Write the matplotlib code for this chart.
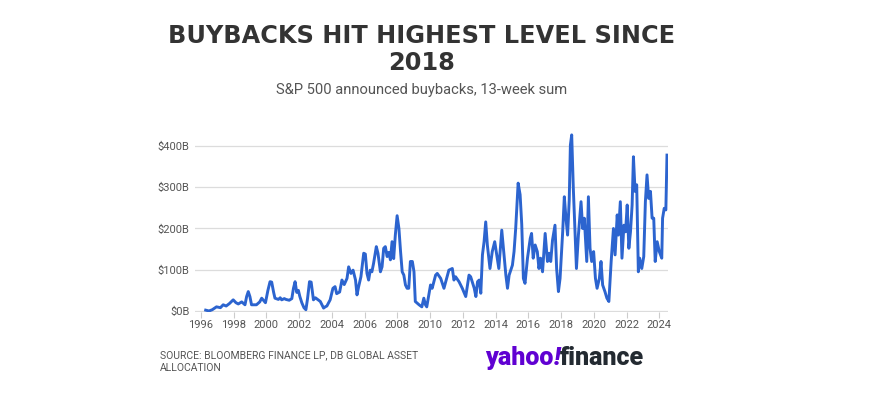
import matplotlib
matplotlib.use("Agg")
import matplotlib.pyplot as plt
from matplotlib.offsetbox import TextArea, HPacker, AnnotationBbox

# S&P 500 announced buybacks, 13-week sum ($B)
years = [
    1996.3, 1996.5, 1996.7, 1996.96, 1997.2, 1997.37, 1997.55, 1997.75, 1997.98, 1998.15,
    1998.29, 1998.5, 1998.7, 1998.8, 1998.9, 1999.0, 1999.1, 1999.4, 1999.6, 1999.72,
    1999.85, 1999.95, 2000.1, 2000.23, 2000.33, 2000.45, 2000.53, 2000.74, 2000.85, 2000.94,
    2001.1, 2001.2, 2001.4, 2001.56, 2001.66, 2001.76, 2001.86, 2001.96, 2002.05, 2002.17,
    2002.3, 2002.42, 2002.52, 2002.64, 2002.74, 2002.88, 2003.0, 2003.1, 2003.3, 2003.5,
    2003.6, 2003.7, 2003.9, 2004.07, 2004.2, 2004.3, 2004.48, 2004.62, 2004.76, 2004.93,
    2005.03, 2005.17, 2005.3, 2005.45, 2005.54, 2005.64, 2005.78, 2005.95, 2006.05, 2006.15,
    2006.25, 2006.35, 2006.45, 2006.55, 2006.72, 2006.82, 2006.97, 2007.07, 2007.17, 2007.27,
    2007.38, 2007.48, 2007.58, 2007.68, 2007.78, 2007.88, 2007.99, 2008.1, 2008.2, 2008.3,
    2008.4, 2008.5, 2008.6, 2008.7, 2008.8, 2008.92, 2009.02, 2009.1, 2009.33, 2009.5,
    2009.62, 2009.72, 2009.8, 2010.03, 2010.13, 2010.34, 2010.44, 2010.65, 2010.85, 2011.15,
    2011.36, 2011.46, 2011.56, 2011.77, 2011.97, 2012.18, 2012.38, 2012.48, 2012.7, 2012.8,
    2012.9, 2013.0, 2013.1, 2013.2, 2013.3, 2013.4, 2013.5, 2013.66, 2013.8, 2013.95,
    2014.07, 2014.2, 2014.38, 2014.5, 2014.63, 2014.73, 2014.83, 2015.03, 2015.13, 2015.23,
    2015.38, 2015.5, 2015.6, 2015.7, 2015.8, 2015.95, 2016.12, 2016.2, 2016.3, 2016.42,
    2016.55, 2016.65, 2016.75, 2016.87, 2017.03, 2017.17, 2017.27, 2017.37, 2017.48, 2017.63,
    2017.73, 2017.84, 2017.94, 2018.1, 2018.2, 2018.3, 2018.4, 2018.5, 2018.57, 2018.65,
    2018.75, 2018.86, 2018.94, 2019.06, 2019.22, 2019.32, 2019.42, 2019.57, 2019.67, 2019.77,
    2019.87, 2019.99, 2020.1, 2020.2, 2020.34, 2020.44, 2020.54, 2020.68, 2020.8, 2020.92,
    2021.06, 2021.2, 2021.3, 2021.43, 2021.5, 2021.62, 2021.72, 2021.84, 2021.94, 2022.04,
    2022.14, 2022.24, 2022.34, 2022.42, 2022.52, 2022.62, 2022.72, 2022.8, 2022.93, 2023.05,
    2023.15, 2023.25, 2023.35, 2023.46, 2023.56, 2023.66, 2023.75, 2023.87, 2024.0, 2024.15,
    2024.2, 2024.3, 2024.4, 2024.47,
]
buybacks = [
    2, 0, 3, 10, 8, 15, 12, 18, 27, 20,
    17, 22, 15, 35, 47, 35, 15, 15, 22, 31,
    25, 20, 50, 71, 70, 45, 31, 28, 32, 27,
    30, 28, 26, 30, 55, 71, 45, 50, 35, 20,
    8, 3, 30, 71, 70, 27, 32, 29, 23, 7,
    10, 12, 27, 55, 59, 42, 46, 75, 64, 79,
    107, 91, 99, 75, 39, 59, 83, 140, 138, 91,
    75, 99, 95, 115, 156, 140, 95, 107, 152, 156,
    132, 142, 124, 168, 127, 184, 231, 200, 144, 95,
    87, 63, 55, 55, 120, 120, 95, 23, 15, 10,
    31, 15, 10, 63, 55, 87, 91, 79, 55, 99,
    103, 75, 83, 71, 55, 35, 87, 83, 55, 35,
    71, 75, 43, 136, 168, 216, 160, 103, 144, 168,
    136, 103, 196, 144, 87, 55, 87, 111, 144, 200,
    310, 282, 210, 79, 67, 128, 176, 188, 128, 160,
    144, 103, 128, 95, 188, 120, 140, 120, 172, 208,
    103, 47, 79, 192, 277, 225, 184, 269, 402, 427,
    297, 184, 103, 184, 265, 200, 225, 120, 277, 152,
    120, 144, 79, 55, 79, 120, 63, 47, 31, 23,
    120, 200, 136, 233, 184, 265, 128, 208, 192, 257,
    152, 192, 257, 374, 290, 306, 95, 128, 103, 132,
    265, 330, 273, 290, 225, 225, 120, 168, 144, 128,
    225, 249, 245, 378,
]
x_ticks = list(range(1996, 2025, 2))
y_ticks = [0, 100, 200, 300, 400]
y_labels = ["$0B", "$100B", "$200B", "$300B", "$400B"]

plt.rcParams["font.family"] = ["Roboto", "DejaVu Sans"]

fig = plt.figure(figsize=(8.91, 3.96), dpi=100)
ax = fig.add_axes([0.2189, 0.2116, 0.5308, 0.4561])

ax.plot(years, buybacks, color="#2c64cf", lw=2.1, solid_joinstyle="round")
ax.set_xlim(1995.65, 2024.53)
ax.set_ylim(-3, 435)

ax.set_yticks(y_ticks)
ax.set_yticklabels(y_labels)
ax.set_xticks(x_ticks)
ax.grid(axis="y", color="#dcdcdc", lw=0.9)
ax.set_axisbelow(True)
for s in ax.spines.values():
    s.set_visible(False)
ax.tick_params(axis="y", length=0, pad=4, labelsize=8, labelcolor="#555555")
ax.tick_params(axis="x", length=4, width=0.8, color="#cccccc", pad=1.5,
               labelsize=8, labelcolor="#555555")

title_font = dict(fontsize=17.3, fontweight="bold", color="#333333", family="DejaVu Sans")
fig.text(0.4735, 0.908, "BUYBACKS HIT HIGHEST LEVEL SINCE", ha="center", va="center", **title_font)
fig.text(0.4735, 0.840, "2018", ha="center", va="center", **title_font)
fig.text(0.4735, 0.772, "S&P 500 announced buybacks, 13-week sum", ha="center", va="center",
         fontsize=10.6, color="#555555")

fig.text(0.1795, 0.103, "SOURCE: BLOOMBERG FINANCE LP, DB GLOBAL ASSET", ha="left", va="center",
         fontsize=7.5, color="#555555")
fig.text(0.1795, 0.07, "ALLOCATION", ha="left", va="center",
         fontsize=7.5, color="#555555")

# yahoo!finance logo as text
logo_parts = [
    TextArea("yahoo", textprops=dict(fontsize=18, fontweight="heavy", color="#6001d2")),
    TextArea("!", textprops=dict(fontsize=18, fontweight="heavy", color="#6001d2", style="italic")),
    TextArea("finance", textprops=dict(fontsize=18, fontweight="heavy", color="#232a31")),
]
logo = HPacker(children=logo_parts, pad=0, sep=0, align="baseline")
ab = AnnotationBbox(logo, (0.6336, 0.095), xycoords="figure fraction", frameon=False,
                    box_alignment=(0.5, 0.5), pad=0)
fig.add_artist(ab)

fig.savefig("out.png", dpi=100, facecolor="white")
